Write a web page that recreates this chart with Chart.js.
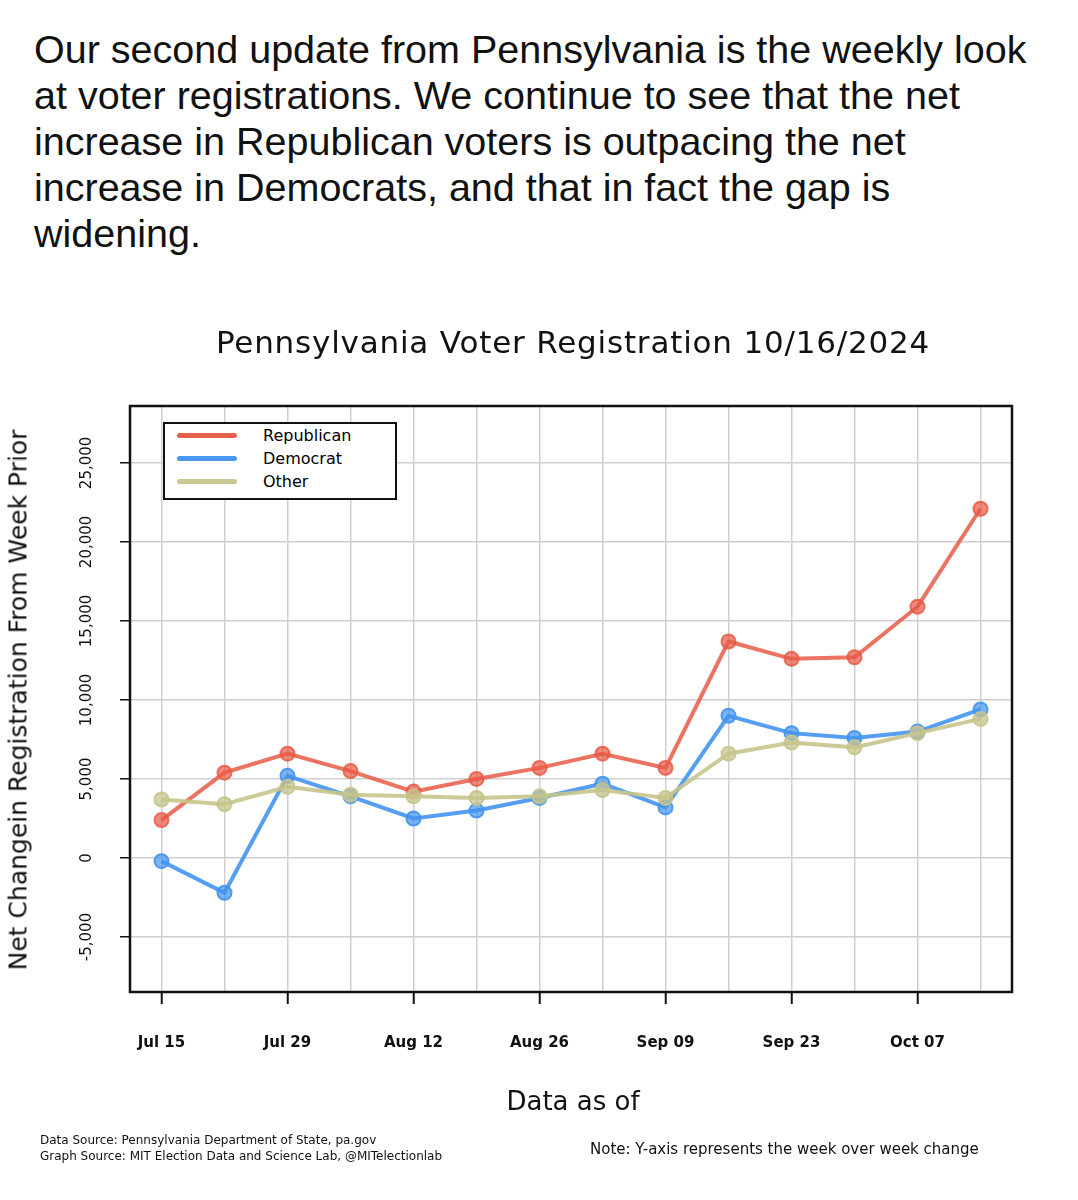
<!DOCTYPE html>
<html>
<head>
<meta charset="utf-8">
<script src="https://cdn.jsdelivr.net/npm/chart.js@4"></script>
<style>
body{margin:0;width:1078px;height:1200px;background:#fff;position:relative;overflow:hidden;font-family:"Liberation Sans",Arial,sans-serif;}
#intro{position:absolute;left:34px;top:26px;font-size:39.5px;line-height:46px;color:#111;white-space:nowrap;}
#wrap{position:absolute;left:0;top:300px;width:1078px;height:900px;}
.abs{position:absolute;color:#111;}
#legend{position:absolute;left:163px;top:422px;width:230px;height:74px;border:2px solid #111;background:#fff;font-family:"DejaVu Sans",sans-serif;font-size:16px;}
#legend div{height:23px;line-height:23px;position:relative;padding-left:98px;}
#legend span{position:absolute;left:12px;top:9px;width:60px;height:5px;border-radius:3px;}
</style>
</head>
<body>
<div id="intro">Our second update from Pennsylvania is the weekly look<br>at voter registrations. We continue to see that the net<br>increase in Republican voters is outpacing the net<br>increase in Democrats, and that in fact the gap is<br>widening.</div>
<div id="wrap"><canvas id="c" width="1078" height="900"></canvas></div>
<div class="abs" style="left:0;width:1078px;top:324px;text-align:center;padding-left:68px;box-sizing:border-box;font-family:'DejaVu Sans',sans-serif;font-size:31px;letter-spacing:0.8px;">Pennsylvania Voter Registration 10/16/2024</div>
<div class="abs" style="left:0;width:1078px;top:1086px;text-align:center;padding-left:68px;box-sizing:border-box;font-family:'DejaVu Sans',sans-serif;font-size:26px;">Data as of</div>
<div class="abs" style="left:18px;top:700px;transform:translate(-50%,-50%) rotate(-90deg);white-space:nowrap;font-family:'DejaVu Sans',sans-serif;font-size:25px;">Net Changein Registration From Week Prior</div>
<div class="abs" style="left:40px;top:1132px;font-family:'DejaVu Sans',sans-serif;font-size:12px;line-height:16px;">Data Source: Pennsylvania Department of State, pa.gov<br>Graph Source: MIT Election Data and Science Lab, @MITelectionlab</div>
<div class="abs" style="left:590px;top:1140px;font-family:'DejaVu Sans',sans-serif;font-size:15px;">Note: Y-axis represents the week over week change</div>
<div id="legend">
<div><span style="background:#e8604c"></span>Republican</div>
<div><span style="background:#4a97f0"></span>Democrat</div>
<div><span style="background:#c9c68f"></span>Other</div>
</div>
<script>
const weeks=["Jul 15","Jul 22","Jul 29","Aug 05","Aug 12","Aug 19","Aug 26","Sep 02","Sep 09","Sep 16","Sep 23","Sep 30","Oct 07","Oct 14"];
const republican=[2400,5400,6600,5500,4200,5000,5700,6600,5700,13700,12600,12700,15900,22100];
const democrat=[-200,-2200,5200,3900,2500,3000,3800,4700,3200,9000,7900,7600,8000,9400];
const other=[3700,3400,4500,4000,3900,3800,3900,4300,3800,6600,7300,7000,7900,8800];
const yTicks=[-5000,0,5000,10000,15000,20000,25000];

function ds(label,data,color,fill){
    return {label:label,data:data,borderColor:color,backgroundColor:fill,borderWidth:4,
        pointRadius:7,pointBorderWidth:2,pointBorderColor:color,pointBackgroundColor:fill};
}

const yLabels={
    id:"yLabels",
    afterDraw(chart){
        const c=chart.ctx, y=chart.scales.y, x0=chart.chartArea.left;
        c.save();
        c.font="15px 'DejaVu Sans', sans-serif";
        c.fillStyle="#111";
        c.textAlign="center";c.textBaseline="middle";
        yTicks.forEach(v=>{
            c.save();
            c.translate(x0-43,y.getPixelForValue(v));
            c.rotate(-Math.PI/2);
            c.fillText(v.toLocaleString("en-US"),0,0);
            c.restore();
        });
        c.restore();
    }
};

new Chart(document.getElementById("c"),{
    type:"line",
    data:{labels:weeks,datasets:[
        ds("Other",other,"rgba(199,196,140,0.9)","rgba(199,196,140,0.75)"),
        ds("Democrat",democrat,"rgba(66,148,240,0.9)","rgba(66,148,240,0.7)"),
        ds("Republican",republican,"rgba(232,90,70,0.85)","rgba(232,90,70,0.7)")
    ]},
    options:{
        responsive:false,animation:false,
        layout:{padding:{left:130,right:66,top:106,bottom:0}},
        plugins:{legend:{display:false},tooltip:{enabled:false}},
        scales:{
            x:{offset:true,
                border:{color:"#111",width:2},
                grid:{color:"#d0d0d0",lineWidth:1.5,tickLength:12,
                    tickColor:ctx=>ctx.index%2===0?"#111":"rgba(0,0,0,0)",tickWidth:2},
                ticks:{autoSkip:false,maxRotation:0,padding:30,color:"#111",
                    font:{family:"DejaVu Sans",size:15,weight:"bold"},
                    callback:function(v,i){return i%2===0?weeks[i]:"";}},
                afterFit:s=>{s.height=208;}
            },
            y:{min:-8480,max:28600,
                border:{color:"#111",width:2},
                grid:{color:"#d0d0d0",lineWidth:1.5,drawTicks:true,tickLength:10,tickColor:"#111"},
                afterBuildTicks:s=>{s.ticks=yTicks.map(v=>({value:v}));},
                ticks:{display:false},
                afterFit:s=>{s.width=0;}
            }
        }
    },
    plugins:[yLabels,{
        id:"frame",
        afterDraw(chart){
            const a=chart.chartArea,c=chart.ctx;
            c.save();c.strokeStyle="#111";c.lineWidth=2.5;
            c.strokeRect(a.left,a.top,a.right-a.left,a.bottom-a.top);c.restore();
        }
    }]
});
</script>
</body>
</html>
